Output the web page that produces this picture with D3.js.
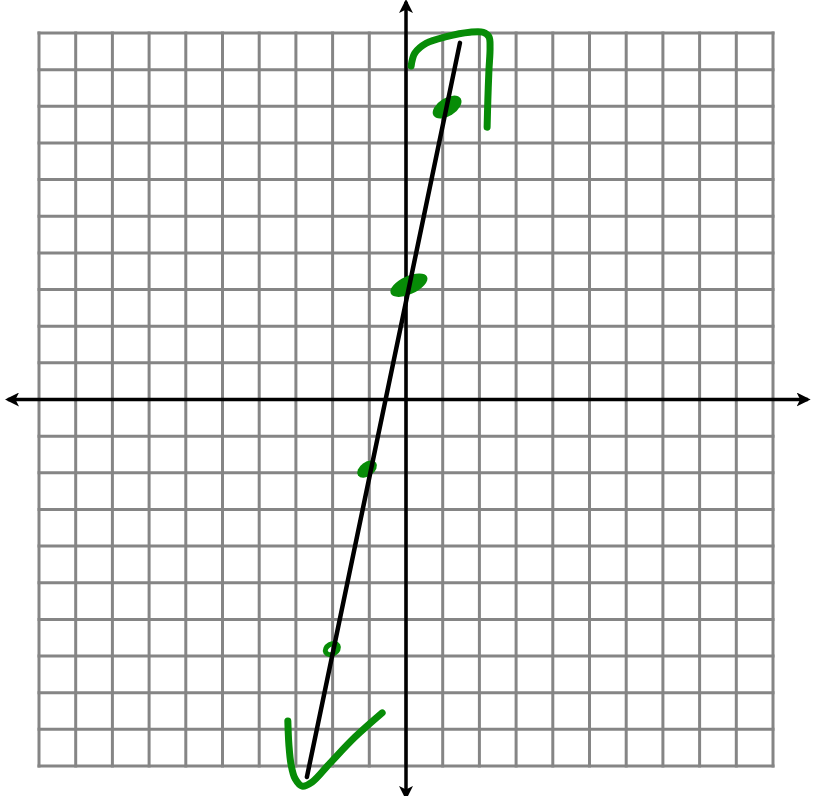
<!DOCTYPE html>
<html>
<head>
<meta charset="utf-8">
<script src="https://cdn.jsdelivr.net/npm/d3@7"></script>
<style>
  body { margin: 0; background: #fff; }
</style>
</head>
<body>
<div id="chart"></div>
<script>
// Size of the page
var svgWidth = 817;
var svgHeight = 796;

// grid runs from -10 to 10 on both axes
var gridTicks = d3.range(-10, 11);

// the hand drawn line y = 5x + 3 (endpoints as drawn)
var lineX = [-2.70, 1.47];
var lineY = [-10.3, 9.73];

// green marked points
var dotX = [1.12, 0.08, -1.06, -2.02];
var dotY = [7.98, 3.12, -1.90, -6.81];

// green arrow strokes drawn by hand
var topHookX = [0.14, 0.24, 0.55, 1.10, 1.74, 2.10, 2.26, 2.29, 2.26, 2.23, 2.21];
var topHookY = [9.10, 9.45, 9.72, 9.90, 10.02, 10.02, 9.90, 9.59, 8.99, 8.17, 7.43];
var bottomCheckX = [-3.22, -3.19, -3.13, -3.02, -2.83, -2.56, -2.07, -1.39, -0.65];
var bottomCheckY = [-8.77, -9.43, -9.97, -10.35, -10.55, -10.44, -9.92, -9.21, -8.55];

var svg = d3.select("#chart")
  .append("svg")
  .attr("width", svgWidth)
  .attr("height", svgHeight);

var xScale = d3.scaleLinear().domain([-10, 10]).range([39, 773]);
var yScale = d3.scaleLinear().domain([-10, 10]).range([766, 33]);

// grid
var gridGroup = svg.append("g")
  .attr("stroke", "#858585")
  .attr("stroke-width", 3);

gridGroup.selectAll(".vline")
  .data(gridTicks)
  .enter()
  .append("line")
  .attr("x1", d => xScale(d))
  .attr("x2", d => xScale(d))
  .attr("y1", yScale(10) - 1.5)
  .attr("y2", yScale(-10) + 1.5);

gridGroup.selectAll(".hline")
  .data(gridTicks)
  .enter()
  .append("line")
  .attr("y1", d => yScale(d))
  .attr("y2", d => yScale(d))
  .attr("x1", xScale(-10) - 1.5)
  .attr("x2", xScale(10) + 1.5);

// arrow heads for axes
var defs = svg.append("defs");
defs.append("marker")
  .attr("id", "arrow")
  .attr("viewBox", "0 0 10 10")
  .attr("refX", 8)
  .attr("refY", 5)
  .attr("markerWidth", 4)
  .attr("markerHeight", 4)
  .attr("markerUnits", "strokeWidth")
  .attr("orient", "auto-start-reverse")
  .append("path")
  .attr("d", "M0,0 L10,5 L0,10 L2.5,5 Z")
  .attr("fill", "#000");

// axes
svg.append("line")
  .attr("x1", xScale(-10.85))
  .attr("x2", xScale(10.95))
  .attr("y1", yScale(0))
  .attr("y2", yScale(0))
  .attr("stroke", "#000")
  .attr("stroke-width", 3.5)
  .attr("marker-start", "url(#arrow)")
  .attr("marker-end", "url(#arrow)");

svg.append("line")
  .attr("x1", xScale(0))
  .attr("x2", xScale(0))
  .attr("y1", yScale(10.85))
  .attr("y2", yScale(-10.85))
  .attr("stroke", "#000")
  .attr("stroke-width", 3.5)
  .attr("marker-start", "url(#arrow)")
  .attr("marker-end", "url(#arrow)");

// green dots (last one is drawn as a small ring)
var dotSize = [[16, 9, -32], [20, 9, -25], [11, 7, -35], [7, 5, -30]];
svg.selectAll(".dot")
  .data(dotX)
  .enter()
  .append("ellipse")
  .attr("transform", (d, i) => `translate(${xScale(d)}, ${yScale(dotY[i])}) rotate(${dotSize[i][2]})`)
  .attr("rx", (d, i) => dotSize[i][0])
  .attr("ry", (d, i) => dotSize[i][1])
  .attr("fill", (d, i) => i === 3 ? "none" : "#078c07")
  .attr("stroke", "#078c07")
  .attr("stroke-width", (d, i) => i === 3 ? 5 : 0);

// black line
svg.append("line")
  .attr("x1", xScale(lineX[0]))
  .attr("y1", yScale(lineY[0]))
  .attr("x2", xScale(lineX[1]))
  .attr("y2", yScale(lineY[1]))
  .attr("stroke", "#000")
  .attr("stroke-width", 4.5)
  .attr("stroke-linecap", "round");

// green hand drawn arrows
var handLine = d3.line()
  .x(d => xScale(d[0]))
  .y(d => yScale(d[1]))
  .curve(d3.curveCatmullRom);

svg.append("path")
  .datum(d3.zip(topHookX, topHookY))
  .attr("d", handLine)
  .attr("fill", "none")
  .attr("stroke", "#078c07")
  .attr("stroke-width", 7)
  .attr("stroke-linecap", "round")
  .attr("stroke-linejoin", "round");

svg.append("path")
  .datum(d3.zip(bottomCheckX, bottomCheckY))
  .attr("d", handLine)
  .attr("fill", "none")
  .attr("stroke", "#078c07")
  .attr("stroke-width", 7)
  .attr("stroke-linecap", "round")
  .attr("stroke-linejoin", "round");
</script>
</body>
</html>
